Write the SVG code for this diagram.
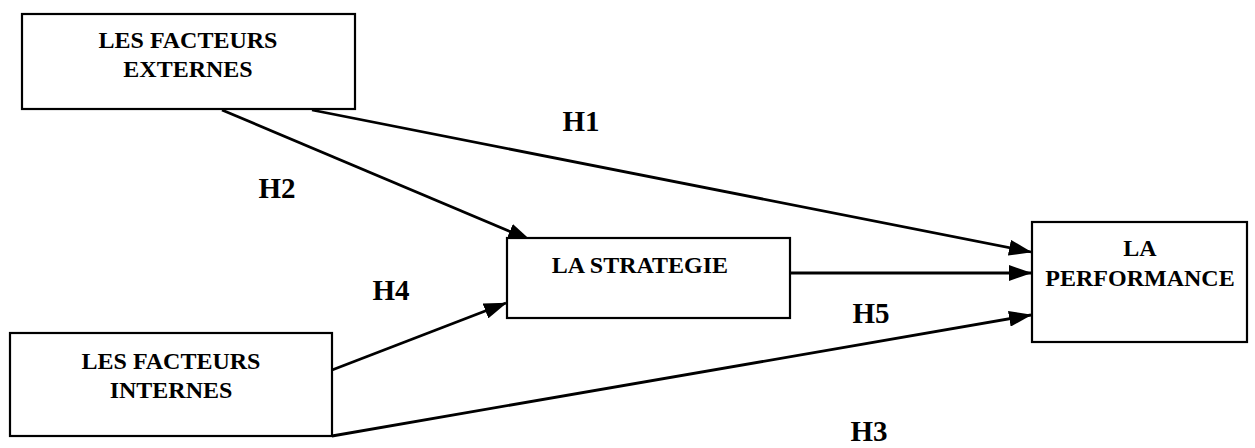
<svg xmlns="http://www.w3.org/2000/svg" width="1255" height="448" viewBox="0 0 1255 448">
  <style>
    .box { fill: #ffffff; stroke: #000000; stroke-width: 2.2; }
    .lbl { font-family: "Liberation Serif", "DejaVu Serif", serif; font-weight: bold; font-size: 24px; fill: #000000; text-anchor: middle; }
    .hyp { font-family: "Liberation Serif", "DejaVu Serif", serif; font-weight: bold; font-size: 29px; fill: #000000; text-anchor: middle; }
    .edge { fill: none; stroke: #000000; stroke-width: 2.8; marker-end: url(#arrow); }
  </style>
  <defs>
    <marker id="arrow" markerUnits="userSpaceOnUse" markerWidth="24" markerHeight="16" refX="22" refY="8" orient="auto">
      <path d="M0,0 L23,8 L0,16 Z" fill="#000000"/>
    </marker>
  </defs>

  <rect width="1255" height="448" fill="#ffffff"/>

  <!-- connectors -->
  <g id="connectors">
    <line class="edge" x1="222" y1="110" x2="530" y2="240"/>
    <line class="edge" x1="312" y1="110" x2="1031" y2="252"/>
    <line class="edge" x1="332" y1="370" x2="506" y2="303"/>
    <line class="edge" x1="790" y1="273" x2="1031" y2="273"/>
    <line class="edge" x1="332" y1="436" x2="1031" y2="315"/>
  </g>

  <!-- hypothesis labels -->
  <g id="hypotheses">
    <text class="hyp" x="581" y="131">H1</text>
    <text class="hyp" x="277" y="198">H2</text>
    <text class="hyp" x="391" y="300">H4</text>
    <text class="hyp" x="871" y="323">H5</text>
    <text class="hyp" x="869" y="441">H3</text>
  </g>

  <g id="node-externes">
    <rect class="box" x="22" y="14" width="333" height="95"/>
    <text class="lbl" x="188" y="48">LES FACTEURS</text>
    <text class="lbl" x="188" y="77">EXTERNES</text>
  </g>

  <g id="node-strategie">
    <rect class="box" x="507" y="238" width="283" height="80"/>
    <text class="lbl" x="640" y="273">LA STRATEGIE</text>
  </g>

  <g id="node-performance">
    <rect class="box" x="1032" y="222" width="215" height="120"/>
    <text class="lbl" x="1140" y="256">LA</text>
    <text class="lbl" x="1140" y="286">PERFORMANCE</text>
  </g>

  <g id="node-internes">
    <rect class="box" x="10" y="333" width="322" height="103"/>
    <text class="lbl" x="171" y="369">LES FACTEURS</text>
    <text class="lbl" x="171" y="398">INTERNES</text>
  </g>
</svg>
